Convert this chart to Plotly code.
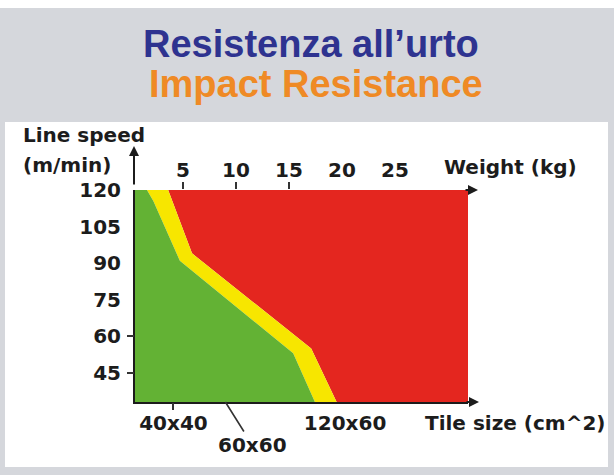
import plotly.graph_objects as go

# ---- data ----
speed_ticks = [120, 105, 90, 75, 60, 45]
speed_marked = [60, 45]
weight_ticks = [5, 10, 15, 20, 25]
weight_marked = [5, 10, 15]
tile_labels = ["40x40", "60x60", "120x60"]
tile_weight = [4.1, 9.0, 20.3]

# boundary of the green (safe) zone: weight (kg) vs line speed (m/min)
green_w = [1.6, 2.2, 4.7, 15.4, 17.45]
green_v = [120, 115.5, 91, 53, 33]
# boundary of the red (unsafe) zone
red_w = [3.6, 5.85, 17.1, 19.5]
red_v = [120, 94, 55, 33]

W_MIN, W_MAX = 0.47, 31.9
V_MIN, V_MAX = 33, 120

# ---- layout geometry ----
FW, FH = 614, 475
L, R, T, B = 135, 146, 190, 73
PW, PH = FW - L - R, FH - T - B
PB = FH - B


def px(x):
    return (x - L) / PW


def py(y):
    return (PB - y) / PH


GREEN, YELLOW, RED = "#63b234", "#f7e600", "#e4261f"
INK = "#1c1c1c"
FONT = "DejaVu Sans"
fs = 20

fig = go.Figure()
fig.add_trace(go.Scatter(
    x=red_w + [W_MAX, W_MAX], y=red_v + [V_MIN, V_MAX],
    fill="toself", fillcolor=RED, mode="lines", line=dict(width=0),
    hoverinfo="skip", showlegend=False))
fig.add_trace(go.Scatter(
    x=red_w + green_w[::-1], y=red_v + green_v[::-1],
    fill="toself", fillcolor=YELLOW, mode="lines", line=dict(width=0),
    hoverinfo="skip", showlegend=False))
fig.add_trace(go.Scatter(
    x=green_w + [W_MIN, W_MIN], y=green_v + [V_MIN, V_MAX],
    fill="toself", fillcolor=GREEN, mode="lines", line=dict(width=0),
    hoverinfo="skip", showlegend=False))

tickfont = dict(family=FONT, size=fs, color=INK, weight="bold")

fig.update_layout(
    width=FW, height=FH,
    margin=dict(l=L, r=R, t=T, b=B),
    paper_bgcolor="white", plot_bgcolor="white",
    showlegend=False,
    xaxis=dict(range=[W_MIN, W_MAX], side="bottom",
               tickvals=[tile_weight[0], tile_weight[2]],
               ticktext=[tile_labels[0], tile_labels[2]],
               ticks="", showline=True, linecolor=INK, linewidth=2,
               showgrid=False, zeroline=False, tickfont=tickfont,
               ticklabelstandoff=2, fixedrange=True),
    xaxis2=dict(range=[W_MIN, W_MAX], overlaying="x", side="top", anchor="y",
                tickvals=weight_ticks, ticktext=[str(v) for v in weight_ticks],
                ticks="", showline=False, showgrid=False, zeroline=False,
                tickfont=tickfont, ticklabelstandoff=8),
    xaxis3=dict(range=[W_MIN, W_MAX], overlaying="x", side="top", anchor="y",
                tickvals=weight_marked, ticks="outside", ticklen=7,
                tickwidth=1.5, tickcolor="#333", showticklabels=False,
                showline=False, showgrid=False, zeroline=False),
    xaxis4=dict(range=[W_MIN, W_MAX], overlaying="x", side="bottom", anchor="y",
                tickvals=[tile_weight[0]], ticks="outside", ticklen=7,
                tickwidth=1.5, tickcolor="#333", showticklabels=False,
                showline=False, showgrid=False, zeroline=False),
    yaxis=dict(range=[V_MIN, V_MAX], tickvals=speed_ticks,
               ticktext=[str(v) for v in speed_ticks], ticks="",
               showline=True, linecolor=INK, linewidth=2, showgrid=False,
               zeroline=False, tickfont=tickfont, ticklabelstandoff=8),
    yaxis2=dict(range=[V_MIN, V_MAX], overlaying="y", side="left", anchor="x",
                tickvals=speed_marked, ticks="outside", ticklen=7,
                tickwidth=1.5, tickcolor="#333", showticklabels=False,
                showline=False, showgrid=False, zeroline=False),
)

# dummy traces so the overlay axes are created
for xa, ya in [("x2", "y"), ("x3", "y"), ("x4", "y"), ("x", "y2")]:
    fig.add_trace(go.Scatter(x=[None], y=[None], xaxis=xa, yaxis=ya,
                             showlegend=False, hoverinfo="skip"))

# background frame
fig.add_shape(type="rect", xref="paper", yref="paper", layer="below",
              x0=px(0), x1=px(FW), y0=py(FH), y1=py(8),
              fillcolor="#d5d7dc", line=dict(width=0))
fig.add_shape(type="rect", xref="paper", yref="paper", layer="below",
              x0=px(5), x1=px(608), y0=py(467), y1=py(122),
              fillcolor="white", line=dict(width=0))

P = dict(xref="paper", yref="paper", showarrow=False, yanchor="middle")
ann = []
# titles
ann.append(dict(text="Resistenza all’urto", x=px(311), y=py(44), xanchor="center",
                font=dict(family="Liberation Sans", size=38, color="#2e3390",
                          weight="bold"), **P))
ann.append(dict(text="Impact Resistance", x=px(316), y=py(84), xanchor="center",
                font=dict(family="Liberation Sans", size=38, color="#ef8a25",
                          weight="bold"), **P))
# axis titles
ann.append(dict(text="Line speed", x=px(21), y=py(135), xanchor="left",
                font=tickfont, **P))
ann.append(dict(text="(m/min)", x=px(21), y=py(165), xanchor="left",
                font=tickfont, **P))
ann.append(dict(text="Weight (kg)", x=px(510), y=py(167), xanchor="center",
                font=tickfont, **P))
ann.append(dict(text="Tile size (cm^2)", x=px(515), y=py(423), xanchor="center",
                font=tickfont, **P))
# 60x60 label with leader line
ann.append(dict(text=tile_labels[1], x=tile_weight[1], y=0, xref="x",
                yref="paper", showarrow=True, arrowhead=0, arrowwidth=1.6,
                arrowcolor="#333", ax=27, ay=43, font=tickfont))
# axis arrows
A = dict(xref="paper", yref="paper", text="", showarrow=True, arrowhead=2,
         arrowsize=1, arrowwidth=2, arrowcolor=INK)
ann.append(dict(x=px(134), y=py(146), ax=0, ay=40, **A))
ann.append(dict(x=px(478), y=py(190), ax=-14, ay=0, **A))
ann.append(dict(x=px(479), y=py(402), ax=-14, ay=0, **A))
fig.update_layout(annotations=ann)

fig.write_html("out.html", config={"displayModeBar": False},
               post_script="document.body.style.margin='0';")
